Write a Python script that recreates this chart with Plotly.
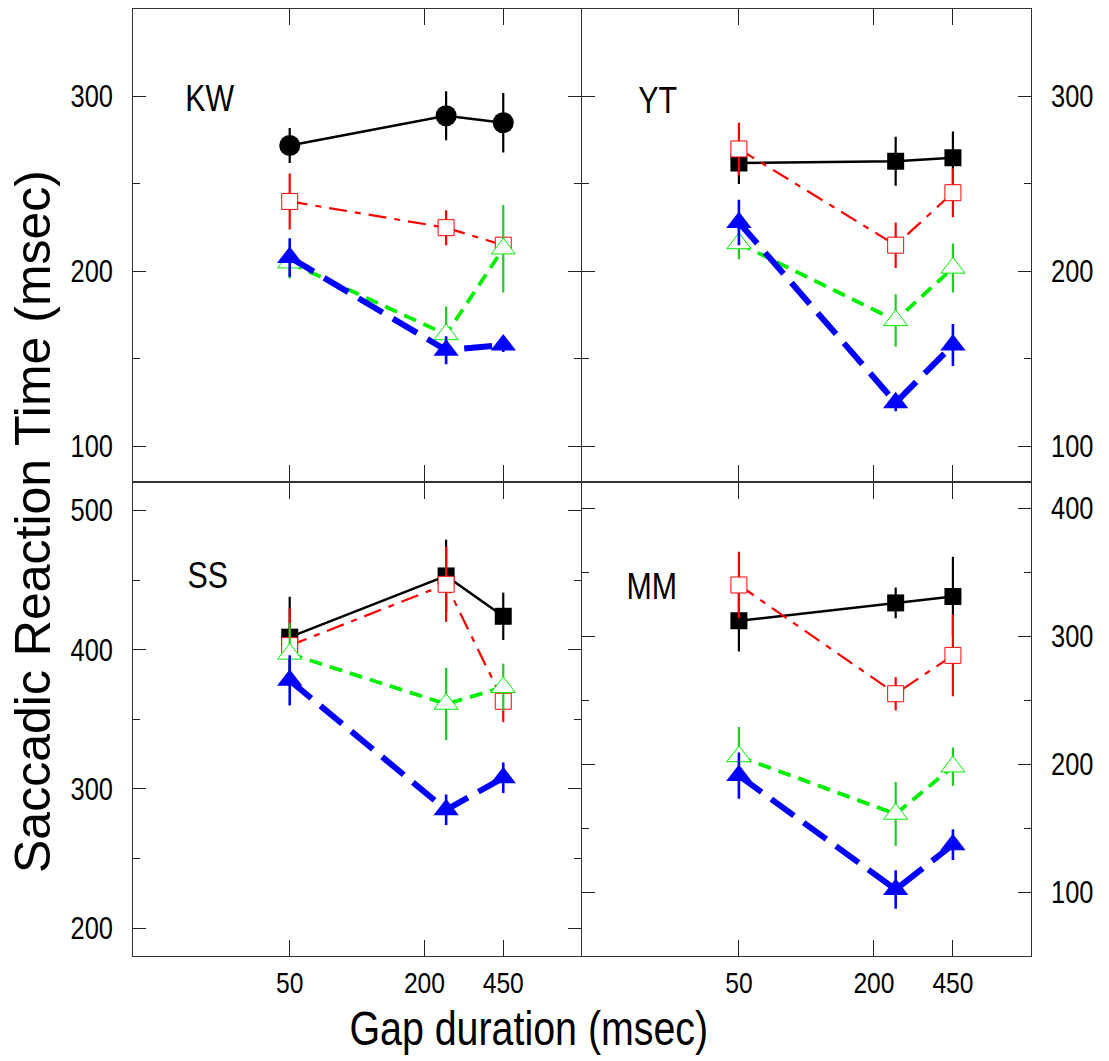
import plotly.graph_objects as go

# ---------------- data ----------------
gaps = [50, 250, 450]
x_tick_vals = [50, 200, 450]
x_tick_text = ["50", "200", "450"]

panels = ["KW", "YT", "SS", "MM"]

kw_black = [272, 289, 285]; kw_black_err = [10, 14, 17]
kw_red = [240, 225, 215]; kw_red_err = [16, 10, 5]
kw_green = [205, 164, 213]; kw_green_err = [9, 16, 25]
kw_blue = [208, 155, 158]; kw_blue_err = [11, 8, 4]

yt_black = [262, 263, 265]; yt_black_err = [12, 14, 15]
yt_red = [270, 215, 245]; yt_red_err = [15, 13, 14]
yt_green = [216, 172, 202]; yt_green_err = [9, 15, 14]
yt_blue = [228, 125, 158]; yt_blue_err = [13, 5, 12]

ss_black = [409, 453, 424]; ss_black_err = [29, 26, 17]
ss_red = [403, 447, 363]; ss_red_err = [27, 27, 15]
ss_green = [397, 361, 373]; ss_green_err = [22, 26, 17]
ss_blue = [378, 285, 308]; ss_blue_err = [18, 11, 11]

mm_black = [312, 326, 331]; mm_black_err = [24, 12, 31]
mm_red = [340, 255, 285]; mm_red_err = [26, 13, 32]
mm_green = [206, 161, 198]; mm_green_err = [23, 25, 15]
mm_blue = [191, 102, 137]; mm_blue_err = [18, 15, 12]

top_y_major = [100, 200, 300]; top_y_minor = [150, 250]
ss_y_major = [200, 300, 400, 500]; ss_y_minor = [250, 350, 450]
mm_y_major = [100, 200, 300, 400]; mm_y_minor = [150, 250, 350]

# ---------------- styling ----------------
FONT = "Liberation Sans, Arial, sans-serif"
BLACK = "#000000"; RED = "#ff0000"; GREEN = "#00ee00"; BLUE = "#0000ff"
LW = 1.3

W, H = 1109, 1061
def px_x(p):
    return p / W
def px_y(p):
    return 1 - p / H

xl = [px_x(133.3), px_x(581.5 - LW / 2)]
xr = [px_x(581.5 + LW / 2), px_x(1030.7)]
yt_dom = [px_y(482 - LW / 2), px_y(9)]
yb_dom = [px_y(956), px_y(482 + LW / 2)]

fig = go.Figure()

def add_panel(ax, black, black_err, red, red_err, green, green_err, blue, blue_err, black_symbol):
    xa = "x" if ax == 1 else f"x{ax}"
    ya = "y" if ax == 1 else f"y{ax}"
    fig.add_trace(go.Scatter(
        x=gaps, y=black, xaxis=xa, yaxis=ya, mode="lines+markers",
        line=dict(color=BLACK, width=2.5),
        marker=dict(symbol=black_symbol, size=21 if black_symbol == "circle" else 17, color=BLACK),
        error_y=dict(type="data", array=black_err, color=BLACK, thickness=2.2, width=0),
        showlegend=False))
    fig.add_trace(go.Scatter(
        x=gaps, y=red, xaxis=xa, yaxis=ya, mode="lines+markers",
        line=dict(color=RED, width=2.2, dash="18px,8px,6px,8px"),
        marker=dict(symbol="square", size=16, color="white", line=dict(color=RED, width=1)),
        error_y=dict(type="data", array=red_err, color=RED, thickness=2.2, width=0),
        showlegend=False))
    fig.add_trace(go.Scatter(
        x=gaps, y=green, xaxis=xa, yaxis=ya, mode="lines+markers",
        line=dict(color=GREEN, width=3.8, dash="13px,8px"),
        marker=dict(symbol="triangle-up", size=21, color="white", line=dict(color=GREEN, width=1)),
        error_y=dict(type="data", array=green_err, color="#22cc22", thickness=2.2, width=0),
        showlegend=False))
    fig.add_trace(go.Scatter(
        x=gaps, y=blue, xaxis=xa, yaxis=ya, mode="lines+markers",
        line=dict(color=BLUE, width=6, dash="28px,12px"),
        marker=dict(symbol="triangle-up", size=22, color=BLUE),
        error_y=dict(type="data", array=blue_err, color=BLUE, thickness=2.6, width=0),
        showlegend=False))

add_panel(1, kw_black, kw_black_err, kw_red, kw_red_err, kw_green, kw_green_err, kw_blue, kw_blue_err, "circle")
add_panel(2, yt_black, yt_black_err, yt_red, yt_red_err, yt_green, yt_green_err, yt_blue, yt_blue_err, "square")
add_panel(3, ss_black, ss_black_err, ss_red, ss_red_err, ss_green, ss_green_err, ss_blue, ss_blue_err, "square")
add_panel(4, mm_black, mm_black_err, mm_red, mm_red_err, mm_green, mm_green_err, mm_blue, mm_blue_err, "square")

def xaxis(domain, anchor, labels):
    return dict(domain=domain, anchor=anchor, type="log", range=[1, 3],
                tickmode="array", tickvals=x_tick_vals, ticktext=x_tick_text,
                showticklabels=labels, ticks="inside", ticklen=16, tickwidth=1.2,
                tickcolor="#222", showline=True, linecolor="#333", linewidth=LW,
                mirror="ticks", showgrid=False, zeroline=False,
                tickfont=dict(family=FONT, size=30, color="black"))

def yaxis(domain, anchor, rng, major, minor, side):
    return dict(domain=domain, anchor=anchor, range=rng, side=side,
                tickmode="array", tickvals=major, ticktext=[str(v) for v in major],
                ticks="inside", ticklen=13, tickwidth=1.2, tickcolor="#222",
                ticklabelstandoff=13,
                minor=dict(tickvals=minor, ticks="inside", ticklen=7, tickwidth=1.2, tickcolor="#222", showgrid=False),
                showline=True, linecolor="#333", linewidth=LW, mirror="ticks",
                showgrid=False, zeroline=False,
                tickfont=dict(family=FONT, size=31, color="black"))

fig.update_layout(
    width=W, height=H, autosize=False,
    margin=dict(l=0, r=0, t=0, b=0),
    plot_bgcolor="white", paper_bgcolor="white",
    xaxis=xaxis(xl, "y", False),
    yaxis=yaxis(yt_dom, "x", [80, 350], top_y_major, top_y_minor, "left"),
    xaxis2=xaxis(xr, "y2", False),
    yaxis2=yaxis(yt_dom, "x2", [80, 350], top_y_major, top_y_minor, "right"),
    xaxis3=xaxis(xl, "y3", True),
    yaxis3=yaxis(yb_dom, "x3", [180, 520], ss_y_major, ss_y_minor, "left"),
    xaxis4=xaxis(xr, "y4", True),
    yaxis4=yaxis(yb_dom, "x4", [50, 420], mm_y_major, mm_y_minor, "right"),
)

label_pos = [("x domain", "y domain", 0.171, 0.811),
             ("x2 domain", "y2 domain", 0.168, 0.807),
             ("x3 domain", "y3 domain", 0.166, 0.803),
             ("x4 domain", "y4 domain", 0.155, 0.78)]
for name, (xr_, yr_, px, py) in zip(panels, label_pos):
    fig.add_annotation(text=name, xref=xr_, yref=yr_, x=px, y=py, xanchor="center", yanchor="middle",
                       showarrow=False, font=dict(family=FONT, size=37, color="black"))

fig.add_annotation(text="Gap duration (msec)", xref="paper", yref="paper",
                   x=px_x(529), y=px_y(1028), xanchor="center", yanchor="middle",
                   showarrow=False, font=dict(family=FONT, size=48, color="black"))
fig.add_annotation(text="Saccadic Reaction Time (msec)", xref="paper", yref="paper",
                   x=px_x(33), y=px_y(522), xanchor="center", yanchor="middle", textangle=-90,
                   showarrow=False, font=dict(family=FONT, size=50, color="black"))

post = """
document.body.style.margin = '0';
document.body.style.padding = '0';
(function(){
  var gd = document.getElementById('{plot_id}');
  if (!gd) return;
  gd.querySelectorAll('text').forEach(function(t){
    var s = t.textContent || '';
    if (s.indexOf('Saccadic') >= 0) return;
    var w = t.getComputedTextLength();
    if (w > 0) {
      t.setAttribute('textLength', (w * 0.82).toFixed(2));
      t.setAttribute('lengthAdjust', 'spacingAndGlyphs');
    }
  });
})();
"""

fig.write_html("out.html", post_script=post, config={"displayModeBar": False})
